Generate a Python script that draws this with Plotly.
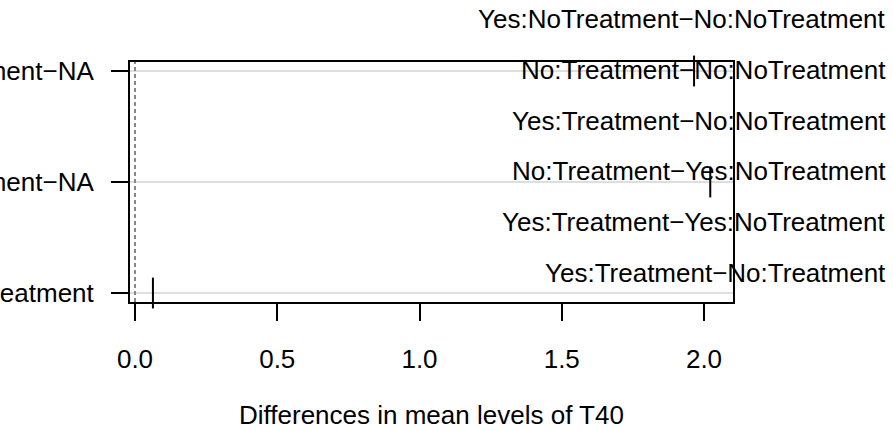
import plotly.graph_objects as go

# Data
row_pos = [1, 2, 3]
row_labels = ["Yes:Treatment−No:Treatment", "No:Treatment−NA", "Yes:Treatment−NA"]
estimates = [0.063, 2.022, 1.965]
x_ticks = [0.0, 0.5, 1.0, 1.5, 2.0]
x_ticklabels = ["0.0", "0.5", "1.0", "1.5", "2.0"]
side_labels = [
    "Yes:NoTreatment−No:NoTreatment",
    "No:Treatment−No:NoTreatment",
    "Yes:Treatment−No:NoTreatment",
    "No:Treatment−Yes:NoTreatment",
    "Yes:Treatment−Yes:NoTreatment",
    "Yes:Treatment−No:Treatment",
]
xlabel = "Differences in mean levels of T40"

W, H = 893, 431
L, R, T, B = 130, 733, 62, 302
FONT = "Liberation Sans, Arial, sans-serif"
FS = 26

def px_x(p):
    return (p - L) / (R - L)

def px_y(p):
    return (B - p) / (B - T)

fig = go.Figure()

# grid lines (horizontal) at each row
for r in row_pos:
    fig.add_shape(type="line", xref="paper", yref="y", x0=0, x1=1, y0=r, y1=r,
                  line=dict(color="#d3d3d3", width=1.5), layer="below")

# dashed zero line
fig.add_shape(type="line", xref="x", yref="paper", x0=0, x1=0, y0=0, y1=1,
              line=dict(color="#888888", width=2, dash="4px,3px"), layer="below")

fig.add_trace(go.Scatter(
    x=estimates, y=row_pos, mode="markers",
    marker=dict(symbol="line-ns", size=22, color="black",
                line=dict(color="black", width=2)),
    showlegend=False, cliponaxis=False, hoverinfo="skip",
))

fig.update_xaxes(
    range=[-0.0176, 2.1019], tickmode="array", tickvals=x_ticks, ticktext=x_ticklabels,
    ticks="outside", ticklen=17, tickwidth=2, tickcolor="black",
    showline=True, linecolor="black", linewidth=2, mirror=True,
    showgrid=False, zeroline=False, automargin=False,
    tickfont=dict(family=FONT, size=FS, color="black"), ticklabelstandoff=16,
)
fig.update_yaxes(
    range=[0.919, 3.081], tickmode="array", tickvals=row_pos, ticktext=row_labels,
    ticks="outside", ticklen=17, tickwidth=2, tickcolor="black",
    showline=True, linecolor="black", linewidth=2, mirror=True,
    showgrid=False, zeroline=False, automargin=False,
    tickfont=dict(family=FONT, size=FS, color="black"), ticklabelstandoff=12,
)

side_y = [19, 70, 121, 171, 222, 273]
for lab, yp in zip(side_labels, side_y):
    fig.add_annotation(text=lab, xref="paper", yref="paper", x=px_x(888), y=px_y(yp),
                       xanchor="right", yanchor="middle", showarrow=False,
                       font=dict(family=FONT, size=FS, color="black"))

fig.add_annotation(text=xlabel, xref="paper", yref="paper", x=0.5, y=px_y(415),
                   xanchor="center", yanchor="middle", showarrow=False,
                   font=dict(family=FONT, size=FS, color="black"))

fig.update_layout(
    width=W, height=H,
    margin=dict(l=L, r=W - R, t=T, b=H - B, pad=0, autoexpand=False),
    paper_bgcolor="white", plot_bgcolor="white",
    font=dict(family=FONT, size=FS, color="black"),
)

fig.write_html("out.html", config={"displayModeBar": False})

with open("out.html", "r", encoding="utf-8") as f:
    html = f.read()
html = html.replace("<head>", "<head><style>html,body{margin:0;padding:0;overflow:hidden;}</style>", 1)
with open("out.html", "w", encoding="utf-8") as f:
    f.write(html)
